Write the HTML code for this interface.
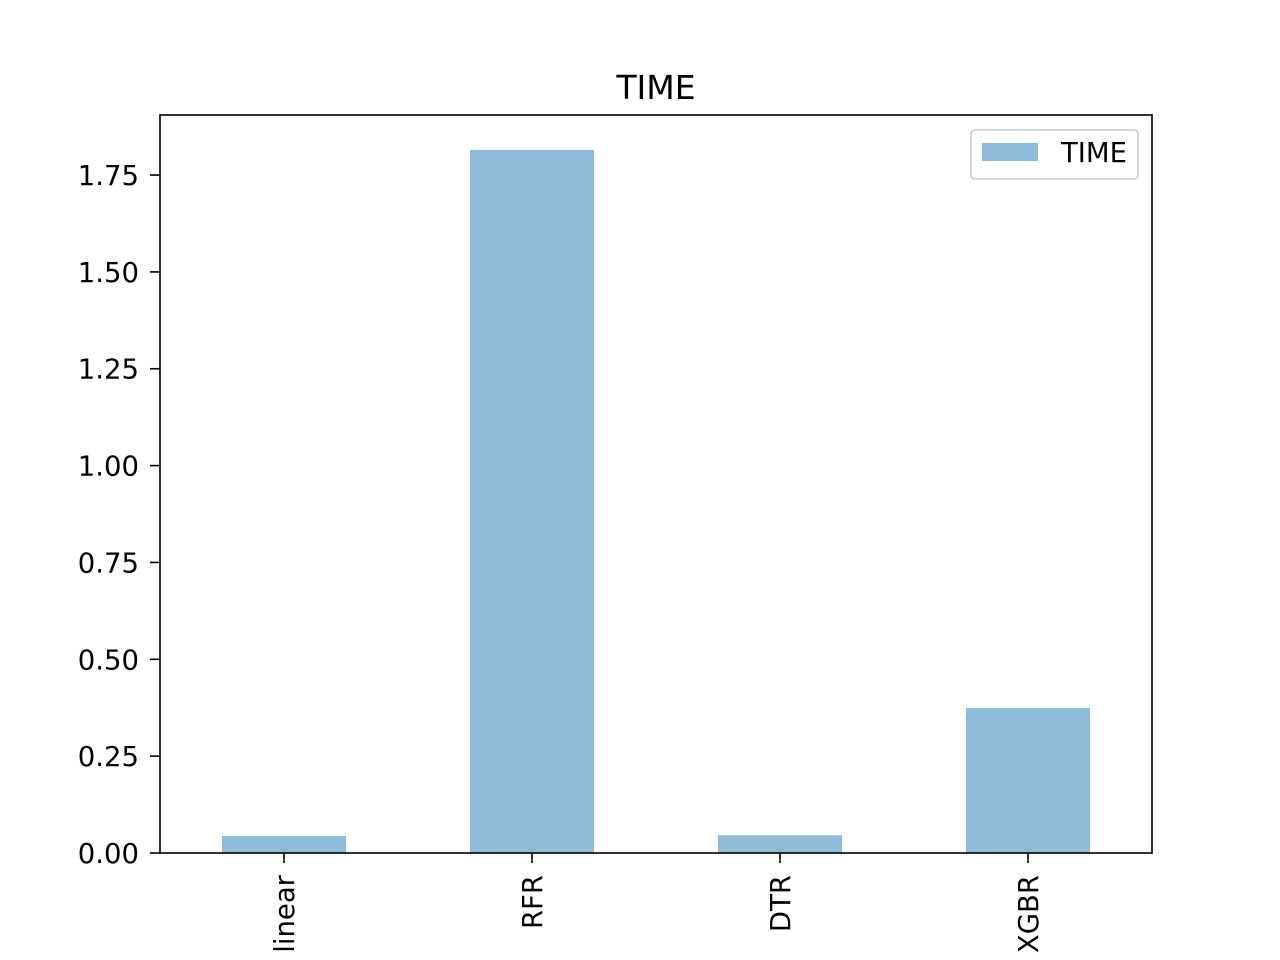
<!DOCTYPE html>
<html><head><meta charset="utf-8"><style>
body{margin:0;background:#fff}
svg{display:block;font-family:"DejaVu Sans","Liberation Sans",sans-serif}
</style></head><body>
<svg id="c" width="1280" height="960">
<text x="656" y="99" font-size="33" text-anchor="middle">TIME</text>
<g id="bars"></g>
<g id="yt"></g>
<g id="xt"></g>
<rect x="160" y="115" width="992" height="738" fill="none" stroke="#000" stroke-width="1.6"/>
<g>
<rect x="971" y="130" width="167" height="49" rx="4" fill="#fff" fill-opacity="0.8" stroke="#ccc" stroke-width="1.6"/>
<rect x="982" y="143" width="56" height="18" fill="#1f77b4" fill-opacity="0.5"/>
<text x="1061" y="162" font-size="27.5">TIME</text>
</g>
</svg>
<script>
const categories=["linear","RFR","DTR","XGBR"];
const values=[0.044,1.815,0.046,0.374];
const yTicks=[0,0.25,0.5,0.75,1.0,1.25,1.5,1.75];
const yTickLabels=["0.00","0.25","0.50","0.75","1.00","1.25","1.50","1.75"];
const L=160,R=1152,T=115,B=853,YMAX=1.905;
const NS="http://www.w3.org/2000/svg";
const y=v=>B-(v/YMAX)*(B-T);
const step=(R-L)/categories.length;
const x=i=>L+step*(i+0.5);
function mk(tag,attrs,parent){const e=document.createElementNS(NS,tag);for(const k in attrs)e.setAttribute(k,attrs[k]);document.getElementById(parent).appendChild(e);return e;}
categories.forEach((c,i)=>{
 const b=mk("rect",{x:x(i)-step/4,y:y(values[i]),width:step/2,height:B-y(values[i]),fill:"#1f77b4","fill-opacity":0.5},"bars");
 
 
 const t=mk("line",{x1:x(i),x2:x(i),y1:B,y2:B+10,stroke:"#000","stroke-width":1.6},"xt");
 
 
 const l=mk("text",{x:0,y:0,"font-size":27.5,"text-anchor":"end",transform:`translate(${x(i)+10},${B+22}) rotate(-90)`},"xt");
 l.textContent=c;
 
 
});
yTicks.forEach((v,i)=>{
 const t=mk("line",{x1:L-10,x2:L,y1:y(v),y2:y(v),stroke:"#000","stroke-width":1.6},"yt");
 
 
 const l=mk("text",{x:L-21,y:y(v)+10,"font-size":27.5,"text-anchor":"end"},"yt");
 l.textContent=yTickLabels[i];
 
 
});
</script>
</body></html>
